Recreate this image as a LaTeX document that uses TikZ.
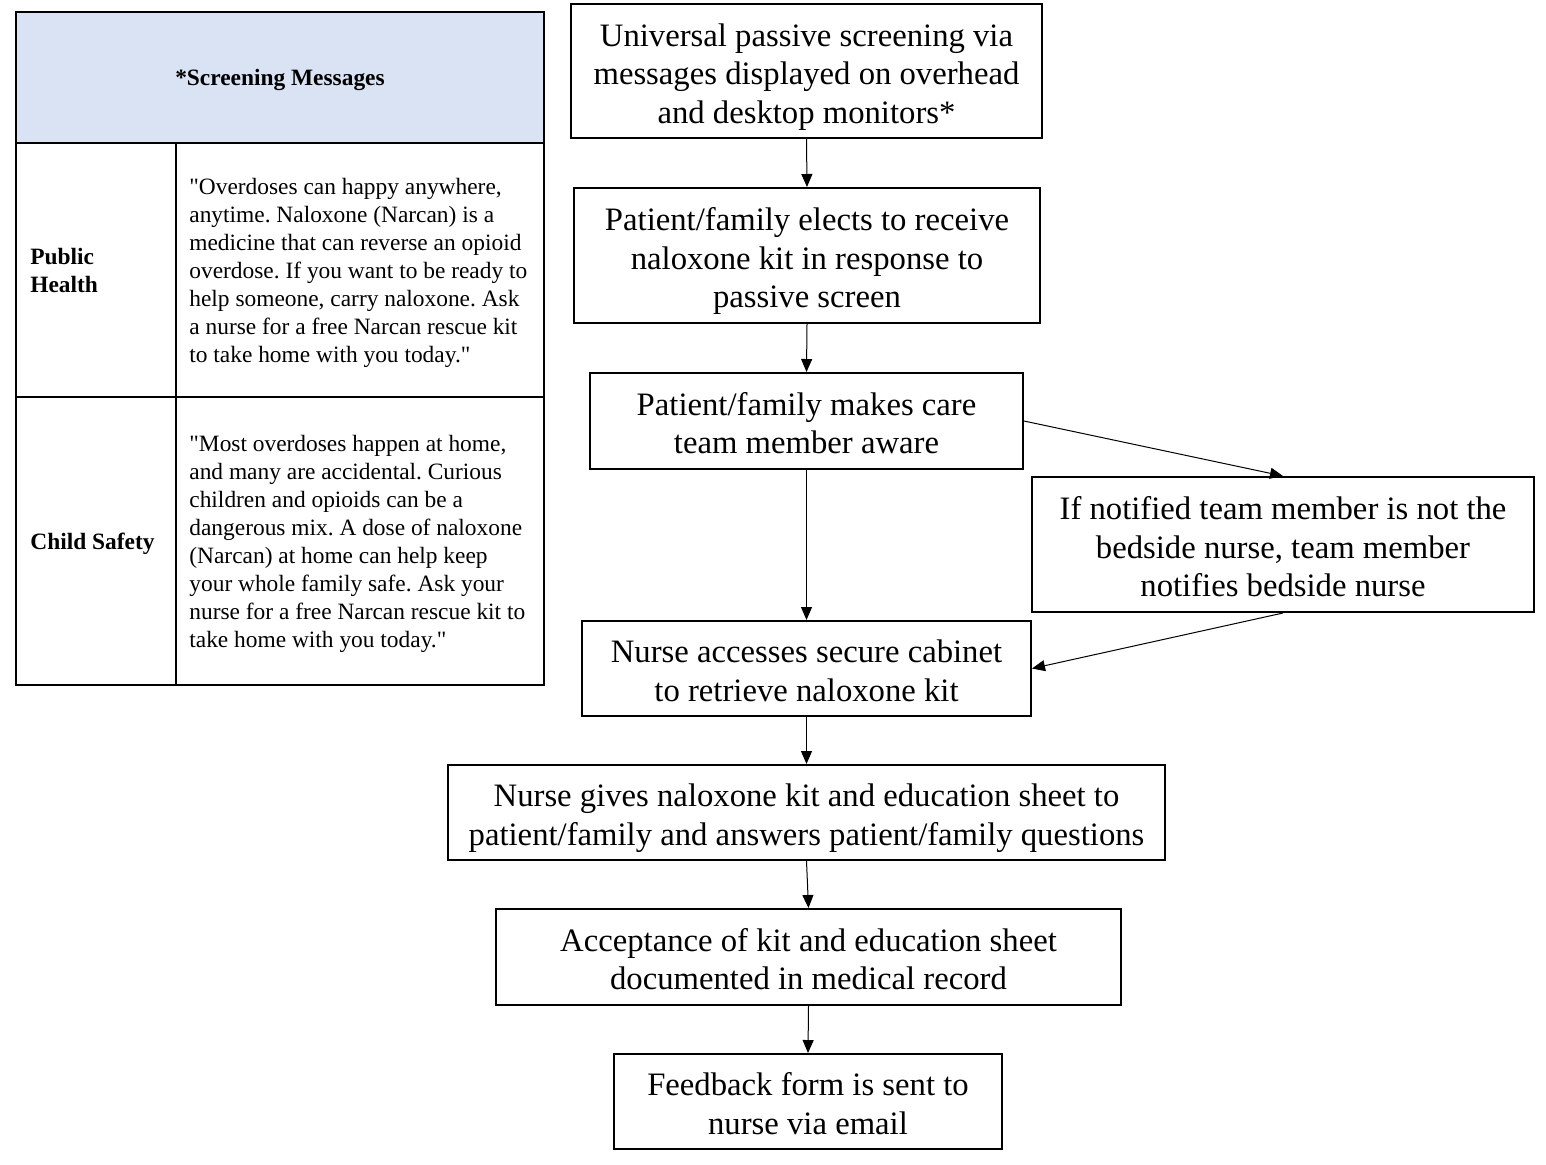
\documentclass[tikz,border=0pt]{standalone}
\usepackage{fontspec}
\setmainfont{Liberation Serif}[Ligatures=TeXOff]
\usetikzlibrary{arrows.meta}
\definecolor{hdrblue}{RGB}{218,227,243}
\newcommand{\tq}{\symbol{34}}
\newcommand{\topst}{\rule{0pt}{17.5pt}}
\newcommand{\botst}{\rule[-4pt]{0pt}{4pt}}
\frenchspacing
\begin{document}
\begin{tikzpicture}[x=0.5pt,y=-0.5pt,
  box/.style={draw, line width=1pt, inner sep=0pt, align=center, font=\fontsize{16.35}{19.25}\selectfont},
  arr/.style={-{Triangle[length=6.5pt,width=5.5pt]}, line width=0.5pt},
  tbl/.style={line width=1pt},
  cell/.style={inner sep=0pt, align=left, anchor=north west, font=\frenchspacing\fontsize{11.7}{14}\selectfont},
  lbl/.style={inner sep=0pt, anchor=base west, align=left, font=\bfseries\fontsize{11.7}{14}\selectfont}]
\useasboundingbox (0,0) rectangle (1546,1164);

% table
\fill[hdrblue] (16,12) rectangle (544,143);
\draw[tbl] (16,12) rectangle (544,685);
\draw[tbl] (16,143) -- (544,143);
\draw[tbl] (16,397) -- (544,397);
\draw[tbl] (176,143) -- (176,685);
\node[inner sep=0pt, anchor=base, font=\bfseries\fontsize{11.7}{14}\selectfont] (hdr) at (280,85) {*Screening Messages};
\node[lbl] (ph) at (30,292) {Public\\Health};
\node[lbl] (cs) at (30,549) {Child Safety};
\node[cell] (phtxt) at (189,178) {\tq Overdoses can happy anywhere,\\anytime. Naloxone (Narcan) is a\\medicine that can reverse an opioid\\overdose. If you want to be ready to\\help someone, carry naloxone. Ask\\a nurse for a free Narcan rescue kit\\to take home with you today.\tq};
\node[cell] (cstxt) at (189,435) {\tq Most overdoses happen at home,\\and many are accidental. Curious\\children and opioids can be a\\dangerous mix. A dose of naloxone\\(Narcan) at home can help keep\\your whole family safe. Ask your\\nurse for a free Narcan rescue kit to\\take home with you today.\tq};

% flowchart
\node[box, minimum width=235.5pt, minimum height=67pt] (b1) at (806.5,71) {\topst Universal passive screening via\\messages displayed on overhead\\and desktop monitors*\botst};
\node[box, minimum width=233pt, minimum height=67.5pt] (b2) at (807,255.5) {\topst Patient/family elects to receive\\naloxone kit in response to\\passive screen\botst};
\node[box, minimum width=216.5pt, minimum height=48pt] (b3) at (806.5,421) {\topst Patient/family makes care\\team member aware\botst};
\node[box, minimum width=251pt, minimum height=67.5pt] (b4) at (1283,544.5) {\topst If notified team member is not the\\bedside nurse, team member\\notifies bedside nurse\botst};
\node[box, minimum width=224.5pt, minimum height=47.5pt] (b5) at (806.5,668.5) {\topst Nurse accesses secure cabinet\\to retrieve naloxone kit\botst};
\node[box, minimum width=358.5pt, minimum height=47.5pt] (b6) at (806.5,812.5) {\topst Nurse gives naloxone kit and education sheet to\\patient/family and answers patient/family questions\botst};
\node[box, minimum width=312.5pt, minimum height=48pt] (b7) at (808.5,957) {\topst Acceptance of kit and education sheet\\documented in medical record\botst};
\node[box, minimum width=194pt, minimum height=47.5pt] (b8) at (808,1101.5) {\topst Feedback form is sent to\\nurse via email\botst};

\draw[arr] (b1.south) -- (b2.north);
\draw[arr] (b2.south) -- (b3.north);
\draw[arr] (b3.south) -- (b5.north);
\draw[arr] (b3.east) -- (b4.north);
\draw[arr] (b4.south) -- (b5.east);
\draw[arr] (b5.south) -- (b6.north);
\draw[arr] (b6.south) -- (b7.north);
\draw[arr] (b7.south) -- (b8.north);
\end{tikzpicture}
\end{document}
